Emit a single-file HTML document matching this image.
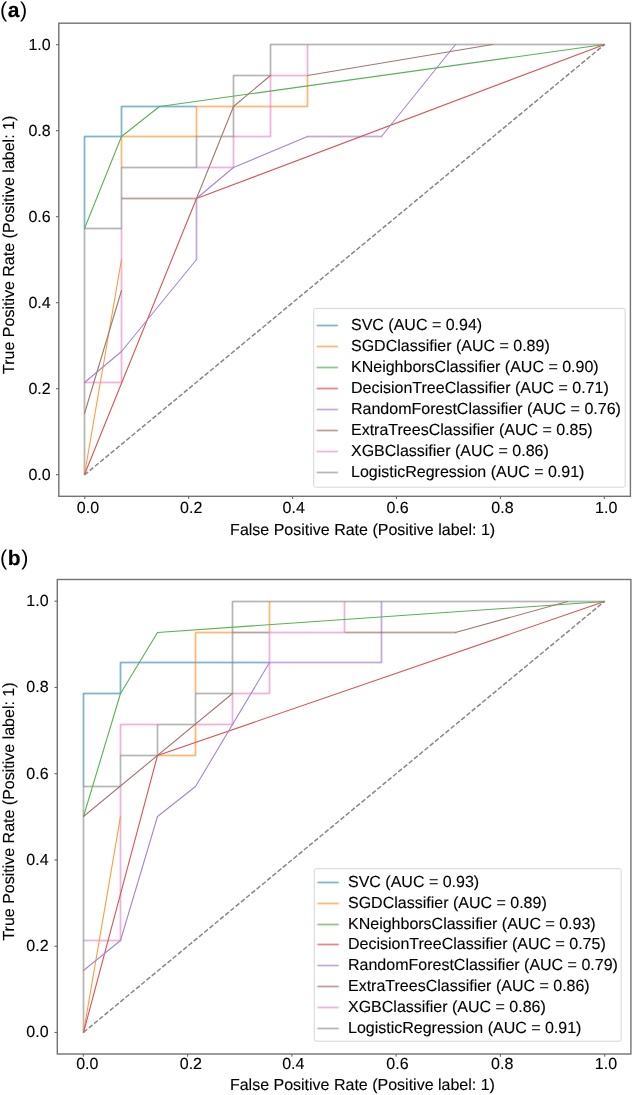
<!DOCTYPE html>
<html><head><meta charset="utf-8"><style>
html,body{margin:0;padding:0;background:#fff;width:633px;height:1095px;overflow:hidden}
svg{display:block;will-change:transform}
text{text-rendering:geometricPrecision;font-family:"Liberation Sans",sans-serif;font-size:16px;fill:#000;stroke:#000;stroke-width:0.12;paint-order:stroke}
.tag{font-size:21.5px;letter-spacing:0.55px;fill:#000;stroke-width:0}
.cv{fill:none;stroke-width:1;stroke-linejoin:miter}
.hv{shape-rendering:crispEdges;stroke-linecap:square}
.dd{shape-rendering:auto;stroke-width:1.1;stroke-linecap:round}
.dg{fill:none;stroke:#8c8486;stroke-width:1.5}
.lg{fill:#fff;fill-opacity:0.8;stroke:#d6d6d6;stroke-width:1}
.fr{fill:none;stroke:#737373;stroke-width:1.4}
.tk{fill:none;stroke:#666;stroke-width:1.1}
</style></head><body>
<svg width="633" height="1095" viewBox="0 0 633 1095"><defs><filter id="bl" x="-5%" y="-5%" width="110%" height="110%" color-interpolation-filters="sRGB"><feConvolveMatrix order="3" kernelMatrix="0.0484 0.1232 0.0484 0.1232 0.3136 0.1232 0.0484 0.1232 0.0484" edgeMode="none"/></filter></defs>
<rect width="633" height="1095" fill="#fff"/>
<g>
<g filter="url(#bl)">
<path d="M84.5,474.5 L84.5,136.5 L121.5,136.5 L121.5,106.5 L270.5,106.5 L270.5,75.5 L307.5,75.5 L307.5,44.5 L604.5,44.5" stroke="#1f77b4" class="cv hv"/>
<path d="M121.5,259.5 L121.5,136.5 L196.5,136.5 L196.5,106.5 L307.5,106.5 L307.5,44.5 L604.5,44.5" stroke="#ff7f0e" class="cv hv"/>
<path d="M84.5,474.5 L84.5,228.5" stroke="#2ca02c" class="cv hv"/>
<path d="M84.5,474.5 L84.5,382.5 M196.5,259.5 L196.5,198.5 M307.5,136.5 L381.5,136.5 M455.5,44.5 L604.5,44.5" stroke="#9467bd" class="cv hv"/>
<path d="M84.5,474.5 L84.5,413.5 M121.5,290.5 L121.5,198.5 L196.5,198.5 M270.5,75.5 L307.5,75.5 M492.5,44.5 L604.5,44.5" stroke="#8c564b" class="cv hv"/>
<path d="M84.5,474.5 L84.5,382.5 L121.5,382.5 L121.5,167.5 L233.5,167.5 L233.5,136.5 L270.5,136.5 L270.5,75.5 L307.5,75.5 L307.5,44.5 L604.5,44.5" stroke="#e377c2" class="cv hv"/>
<path d="M84.5,474.5 L84.5,228.5 L121.5,228.5 L121.5,167.5 L196.5,167.5 L196.5,136.5 L233.5,136.5 L233.5,75.5 L270.5,75.5 L270.5,44.5 L604.5,44.5" stroke="#7f7f7f" class="cv hv"/>
</g>
<path d="M84.5,474.5 L121.5,259.5" stroke="#ff993e" class="cv dd"/>
<path d="M84.5,228.5 L121.5,136.5 M121.5,136.5 L159.5,106.5 M159.5,106.5 L604.5,44.5" stroke="#56b356" class="cv dd"/>
<path d="M84.5,474.5 L196.5,198.5 M196.5,198.5 L604.5,44.5" stroke="#de5253" class="cv dd"/>
<path d="M84.5,382.5 L121.5,351.5 M121.5,351.5 L196.5,259.5 M196.5,198.5 L233.5,167.5 M233.5,167.5 L307.5,136.5 M381.5,136.5 L455.5,44.5" stroke="#a985ca" class="cv dd"/>
<path d="M84.5,413.5 L121.5,290.5 M196.5,198.5 L233.5,106.5 M233.5,106.5 L270.5,75.5 M307.5,75.5 L492.5,44.5" stroke="#a3786f" class="cv dd"/>
<path d="M84.8,474.7 L604.3,44.7" class="dg" stroke-dasharray="4.740 2.050" stroke-dashoffset="0.39"/>
<rect x="313.7" y="308.4" width="311.5" height="178.8" rx="2" class="lg"/>
<g filter="url(#bl)">
<path d="M316.6,325.5 H338" stroke="#1f77b4" class="cv"/>
<path d="M316.6,346.5 H338" stroke="#ff7f0e" class="cv"/>
<path d="M316.6,367.5 H338" stroke="#2ca02c" class="cv"/>
<path d="M316.6,388.5 H338" stroke="#d62728" class="cv"/>
<path d="M316.6,409.5 H338" stroke="#9467bd" class="cv"/>
<path d="M316.6,430.5 H338" stroke="#8c564b" class="cv"/>
<path d="M316.6,451.5 H338" stroke="#e377c2" class="cv"/>
<path d="M316.6,472.5 H338" stroke="#7f7f7f" class="cv"/>
</g>
<text x="351" y="329.6">SVC (AUC = 0.94)</text>
<text x="351" y="350.63">SGDClassifier (AUC = 0.89)</text>
<text x="351" y="371.66">KNeighborsClassifier (AUC = 0.90)</text>
<text x="351" y="392.69">DecisionTreeClassifier (AUC = 0.71)</text>
<text x="351" y="413.72">RandomForestClassifier (AUC = 0.76)</text>
<text x="351" y="434.75">ExtraTreesClassifier (AUC = 0.85)</text>
<text x="351" y="455.78">XGBClassifier (AUC = 0.86)</text>
<text x="351" y="476.81">LogisticRegression (AUC = 0.91)</text>
<rect x="58.8" y="23.2" width="571.6" height="473.1" class="fr"/>
<path d="M84.8,496.3 V499.1" class="tk"/>
<path d="M58.8,474.7 H56" class="tk"/>
<path d="M188.7,496.3 V499.1" class="tk"/>
<path d="M58.8,388.7 H56" class="tk"/>
<path d="M292.6,496.3 V499.1" class="tk"/>
<path d="M58.8,302.7 H56" class="tk"/>
<path d="M396.5,496.3 V499.1" class="tk"/>
<path d="M58.8,216.7 H56" class="tk"/>
<path d="M500.4,496.3 V499.1" class="tk"/>
<path d="M58.8,130.7 H56" class="tk"/>
<path d="M604.3,496.3 V499.1" class="tk"/>
<path d="M58.8,44.7 H56" class="tk"/>
<text x="76.86" y="513">0.0</text>
<text x="180.06" y="513">0.2</text>
<text x="282.56" y="513">0.4</text>
<text x="386.46" y="513">0.6</text>
<text x="491.36" y="513">0.8</text>
<text x="595.1" y="513">1.0</text>
<text x="50.7" y="480.4" text-anchor="end">0.0</text>
<text x="50.7" y="394.4" text-anchor="end">0.2</text>
<text x="50.7" y="308.4" text-anchor="end">0.4</text>
<text x="50.7" y="222.4" text-anchor="end">0.6</text>
<text x="50.7" y="136.4" text-anchor="end">0.8</text>
<text x="50.7" y="50.4" text-anchor="end">1.0</text>
<text x="230.12" y="534.6">False Positive Rate (Positive label: 1)</text>
<text transform="translate(13.9,373.9) rotate(-90)">True Positive Rate (Positive label: 1)</text>
<text x="0.11" y="16.55" class="tag">(<tspan font-weight="bold" font-size="21px" stroke-width="0.15">a</tspan>)</text>
<g filter="url(#bl)">
<path d="M83.5,1032.5 L83.5,693.5 L120.5,693.5 L120.5,662.5 L269.5,662.5 L269.5,632.5 L381.5,632.5 L381.5,601.5 L604.5,601.5" stroke="#1f77b4" class="cv hv"/>
<path d="M120.5,816.5 L120.5,755.5 L195.5,755.5 L195.5,632.5 L269.5,632.5 L269.5,601.5 L604.5,601.5" stroke="#ff7f0e" class="cv hv"/>
<path d="M83.5,1032.5 L83.5,816.5" stroke="#2ca02c" class="cv hv"/>
<path d="M83.5,1032.5 L83.5,970.5 M269.5,662.5 L381.5,662.5 L381.5,601.5 L604.5,601.5" stroke="#9467bd" class="cv hv"/>
<path d="M83.5,1032.5 L83.5,816.5 M232.5,693.5 L232.5,632.5 L455.5,632.5 M567.5,601.5 L604.5,601.5" stroke="#8c564b" class="cv hv"/>
<path d="M83.5,1032.5 L83.5,940.5 L120.5,940.5 L120.5,724.5 L232.5,724.5 L232.5,693.5 L269.5,693.5 L269.5,632.5 L344.5,632.5 L344.5,601.5 L604.5,601.5" stroke="#e377c2" class="cv hv"/>
<path d="M83.5,1032.5 L83.5,786.5 L120.5,786.5 L120.5,755.5 L157.5,755.5 L157.5,724.5 L195.5,724.5 L195.5,693.5 L232.5,693.5 L232.5,601.5 L604.5,601.5" stroke="#7f7f7f" class="cv hv"/>
</g>
<path d="M83.5,1032.5 L120.5,816.5" stroke="#ff993e" class="cv dd"/>
<path d="M83.5,816.5 L120.5,693.5 M120.5,693.5 L157.5,632.5 M157.5,632.5 L604.5,601.5" stroke="#56b356" class="cv dd"/>
<path d="M83.5,1032.5 L157.5,755.5 M157.5,755.5 L604.5,601.5" stroke="#de5253" class="cv dd"/>
<path d="M83.5,970.5 L120.5,940.5 M120.5,940.5 L157.5,816.5 M157.5,816.5 L195.5,786.5 M195.5,786.5 L269.5,662.5" stroke="#a985ca" class="cv dd"/>
<path d="M83.5,816.5 L232.5,693.5 M455.5,632.5 L567.5,601.5" stroke="#a3786f" class="cv dd"/>
<path d="M83.3,1032.5 L604.7,601.2" class="dg" stroke-dasharray="4.752 2.055" stroke-dashoffset="-0.39"/>
<rect x="314.3" y="868.7" width="306.9" height="172.5" rx="2" class="lg"/>
<g filter="url(#bl)">
<path d="M317.4,882.5 H338.8" stroke="#1f77b4" class="cv"/>
<path d="M317.4,903.5 H338.8" stroke="#ff7f0e" class="cv"/>
<path d="M317.4,924.5 H338.8" stroke="#2ca02c" class="cv"/>
<path d="M317.4,944.5 H338.8" stroke="#d62728" class="cv"/>
<path d="M317.4,965.5 H338.8" stroke="#9467bd" class="cv"/>
<path d="M317.4,986.5 H338.8" stroke="#8c564b" class="cv"/>
<path d="M317.4,1007.5 H338.8" stroke="#e377c2" class="cv"/>
<path d="M317.4,1028.5 H338.8" stroke="#7f7f7f" class="cv"/>
</g>
<text x="348" y="886.7">SVC (AUC = 0.93)</text>
<text x="348" y="907.6">SGDClassifier (AUC = 0.89)</text>
<text x="348" y="928.5">KNeighborsClassifier (AUC = 0.93)</text>
<text x="348" y="949.4">DecisionTreeClassifier (AUC = 0.75)</text>
<text x="348" y="970.3">RandomForestClassifier (AUC = 0.79)</text>
<text x="348" y="991.2">ExtraTreesClassifier (AUC = 0.86)</text>
<text x="348" y="1012.1">XGBClassifier (AUC = 0.86)</text>
<text x="348" y="1033">LogisticRegression (AUC = 0.91)</text>
<rect x="57.3" y="579.5" width="573.6" height="474.5" class="fr"/>
<path d="M83.3,1054 V1056.8" class="tk"/>
<path d="M57.3,1032.5 H54.5" class="tk"/>
<path d="M187.58,1054 V1056.8" class="tk"/>
<path d="M57.3,946.24 H54.5" class="tk"/>
<path d="M291.86,1054 V1056.8" class="tk"/>
<path d="M57.3,859.98 H54.5" class="tk"/>
<path d="M396.14,1054 V1056.8" class="tk"/>
<path d="M57.3,773.72 H54.5" class="tk"/>
<path d="M500.42,1054 V1056.8" class="tk"/>
<path d="M57.3,687.46 H54.5" class="tk"/>
<path d="M604.7,1054 V1056.8" class="tk"/>
<path d="M57.3,601.2 H54.5" class="tk"/>
<text x="76.16" y="1069">0.0</text>
<text x="179.76" y="1069">0.2</text>
<text x="282.16" y="1069">0.4</text>
<text x="386.36" y="1069">0.6</text>
<text x="491.06" y="1069">0.8</text>
<text x="594.8" y="1069">1.0</text>
<text x="48.6" y="1037.3" text-anchor="end">0.0</text>
<text x="48.6" y="951.04" text-anchor="end">0.2</text>
<text x="48.6" y="864.78" text-anchor="end">0.4</text>
<text x="48.6" y="778.52" text-anchor="end">0.6</text>
<text x="48.6" y="692.26" text-anchor="end">0.8</text>
<text x="48.6" y="606" text-anchor="end">1.0</text>
<text x="229.92" y="1089.9">False Positive Rate (Positive label: 1)</text>
<text transform="translate(13.6,940.6) rotate(-90)">True Positive Rate (Positive label: 1)</text>
<text x="0.11" y="565.35" class="tag">(<tspan font-weight="bold" font-size="21px" stroke-width="0.15">b</tspan>)</text>
</g>
</svg>
</body></html>
